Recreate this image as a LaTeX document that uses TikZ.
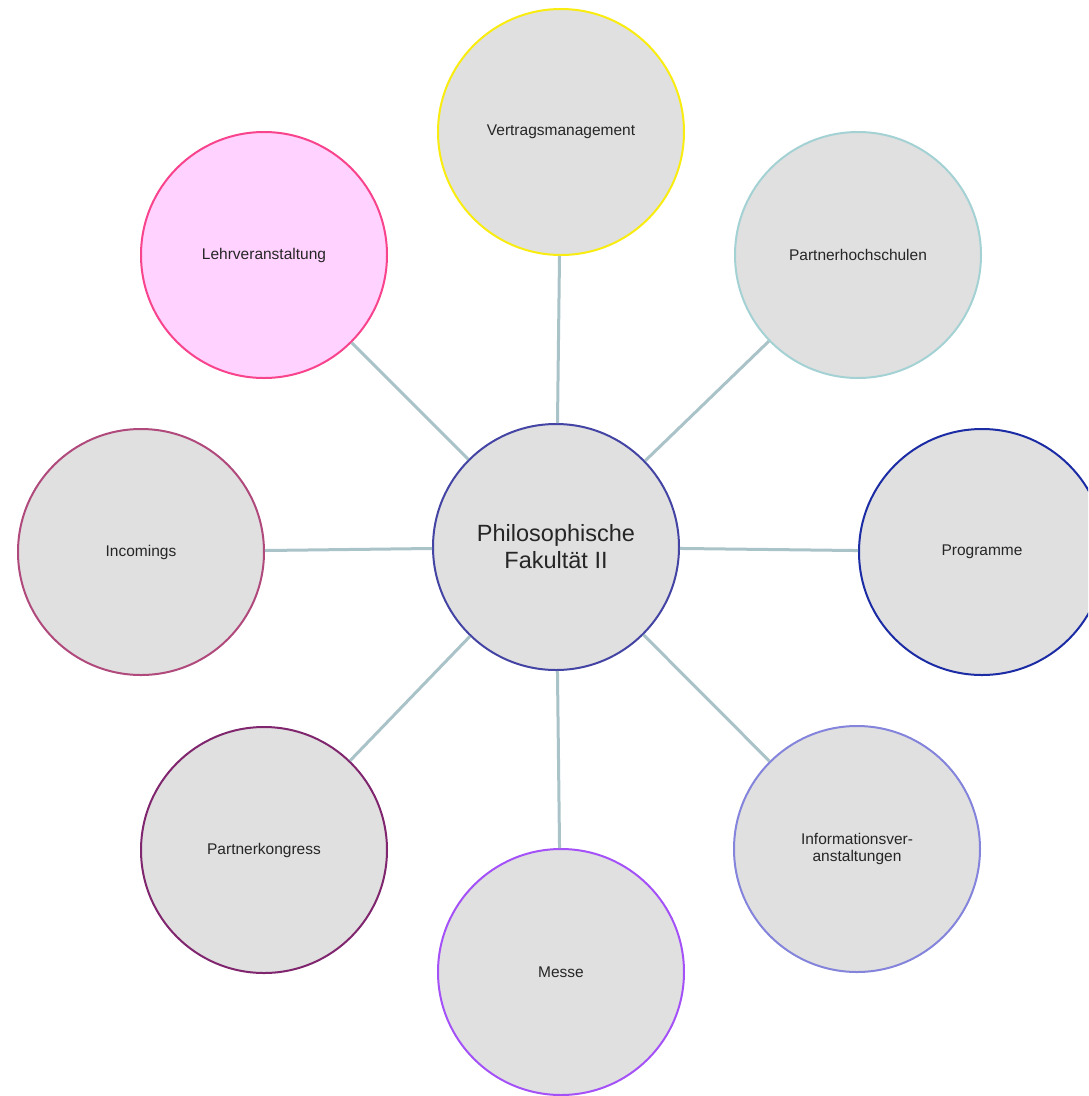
\documentclass[tikz,border=0pt]{standalone}
\usepackage{fontspec}
\setmainfont{Liberation Sans}
\definecolor{fillgray}{HTML}{E0E0E0}
\definecolor{conn}{HTML}{A9C3C8}
\definecolor{cCenter}{HTML}{4444A4}
\definecolor{cVert}{HTML}{F8EC10}
\definecolor{cPartH}{HTML}{A4D2D4}
\definecolor{cProg}{HTML}{1C2CA4}
\definecolor{cInfo}{HTML}{8484DC}
\definecolor{cMesse}{HTML}{A452F8}
\definecolor{cKong}{HTML}{80266E}
\definecolor{cInc}{HTML}{B04A7C}
\definecolor{cLehr}{HTML}{F8448C}
\definecolor{fLehr}{HTML}{FFD2FF}
\begin{document}
\begin{tikzpicture}[x=1pt,y=-1pt,
  bubble/.style={circle,draw,line width=2pt,fill=fillgray,minimum size=246pt,inner sep=0pt,
     align=center,font=\fontsize{15.5}{17}\selectfont,text=black!85},
  link/.style={draw=conn,line width=3pt}]
\useasboundingbox (0,0) rectangle (1088,1096);
\clip (0,0) rectangle (1088,1096);
\node[bubble,draw=cCenter,font=\fontsize{23.5}{27}\selectfont] (c) at (556,547) {Philosophische\\Fakultät II};
\node[bubble,draw=cVert] (v) at (561,132) {Vertragsmanagement};
\node[bubble,draw=cPartH] (ph) at (858,255) {Partnerhochschulen};
\node[bubble,draw=cProg] (pr) at (982,552) {Programme};
\node[bubble,draw=cInfo] (inf) at (857,849) {Informationsver-\\anstaltungen};
\node[bubble,draw=cMesse] (m) at (561,972) {Messe};
\node[bubble,draw=cKong] (pk) at (264,850) {Partnerkongress};
\node[bubble,draw=cInc] (inc) at (141,552) {Incomings};
\node[bubble,draw=cLehr,fill=fLehr] (l) at (264,255) {Lehrveranstaltung};
\foreach \t in {v,ph,pr,inf,m,pk,inc,l}{
  \draw[link] (c) -- (\t);
}
\end{tikzpicture}
\end{document}
